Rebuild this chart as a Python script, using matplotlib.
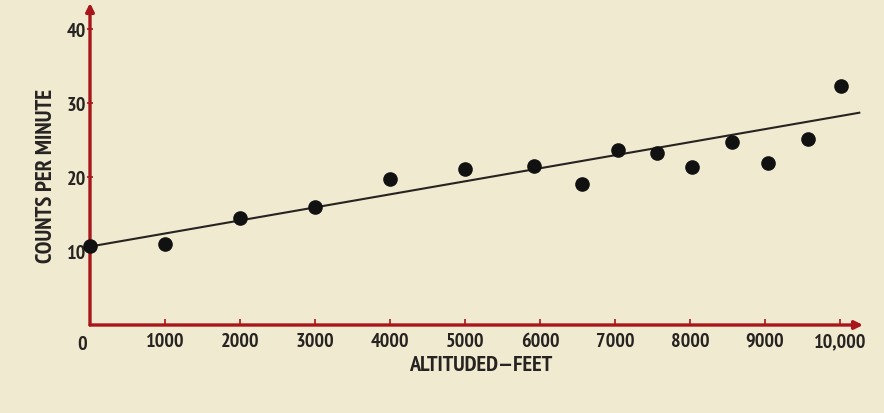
import matplotlib
matplotlib.use("Agg")
import matplotlib.pyplot as plt

# Data
altitude_ft = [0, 1000, 2000, 3000, 4000, 5000, 5920, 6560, 7040, 7560,
               8030, 8560, 9040, 9570, 10010]
counts_per_min = [10.7, 10.9, 14.5, 15.9, 19.7, 21.1, 21.5, 19.1, 23.6, 23.2,
                  21.4, 24.7, 21.9, 25.1, 32.3]
fit_x = [0, 10270]
fit_y = [10.6, 28.7]
x_ticks = [1000, 2000, 3000, 4000, 5000, 6000, 7000, 8000, 9000, 10000]
x_tick_labels = ["1000", "2000", "3000", "4000", "5000", "6000", "7000",
                 "8000", "9000", "10,000"]
y_ticks = [10, 20, 30, 40]
y_tick_labels = ["10", "20", "30", "40"]

BG = "#f0ead1"
RED = "#a8151a"
INK = "#262320"
FONT = ["PT Sans Narrow", "DejaVu Sans"]
plt.rcParams["font.family"] = FONT

W, H = 884, 414
fig = plt.figure(figsize=(W / 100, H / 100), dpi=100, facecolor=BG)
ax = fig.add_axes([90 / W, 88 / H, 773 / W, 322 / H])
ax.set_facecolor(BG)
ax.set_xlim(0, 10306)
ax.set_ylim(0, 43.5)
for s in ax.spines.values():
    s.set_visible(False)

# axes with arrows
ax.annotate("", xy=(1, 0), xytext=(0, 0), xycoords="axes fraction",
            arrowprops=dict(arrowstyle="-|>", color=RED, lw=2.4,
                            mutation_scale=12, shrinkA=0, shrinkB=0),
            annotation_clip=False)
ax.annotate("", xy=(0, 1), xytext=(0, 0), xycoords="axes fraction",
            arrowprops=dict(arrowstyle="-|>", color=RED, lw=2.4,
                            mutation_scale=12, shrinkA=0, shrinkB=0),
            annotation_clip=False)

ax.set_xticks(x_ticks)
ax.set_xticklabels(x_tick_labels)
ax.set_yticks(y_ticks)
ax.set_yticklabels(y_tick_labels)
ax.tick_params(axis="x", direction="in", length=4, width=1.2, color=RED,
               pad=5, labelsize=14.5, labelcolor=INK)
ax.tick_params(axis="y", direction="inout", length=4, width=1.2, color=RED,
               pad=1, labelsize=14.5, labelcolor=INK)
for lab in ax.get_xticklabels() + ax.get_yticklabels():
    lab.set_fontweight("bold")
ax.text(-107, -1.3, "0", ha="center", va="top", fontsize=14.5,
        fontweight="bold", color=INK)

ax.plot(fit_x, fit_y, color=INK, lw=1.5, solid_capstyle="butt", zorder=3)
ax.plot(altitude_ft, counts_per_min, "o", color="#111111", markersize=9.5,
        clip_on=False, zorder=4)

fig.text(481 / W, 1 - 366 / H, "ALTITUDED\u2014FEET", ha="center", va="center",
         fontsize=16, fontweight="bold", color=INK)
fig.text(47 / W, 1 - 176 / H, "COUNTS PER MINUTE", ha="center", va="center",
         rotation=90, fontsize=16.5, fontweight="bold", color=INK)

fig.savefig("out.png", dpi=100, facecolor=BG)
